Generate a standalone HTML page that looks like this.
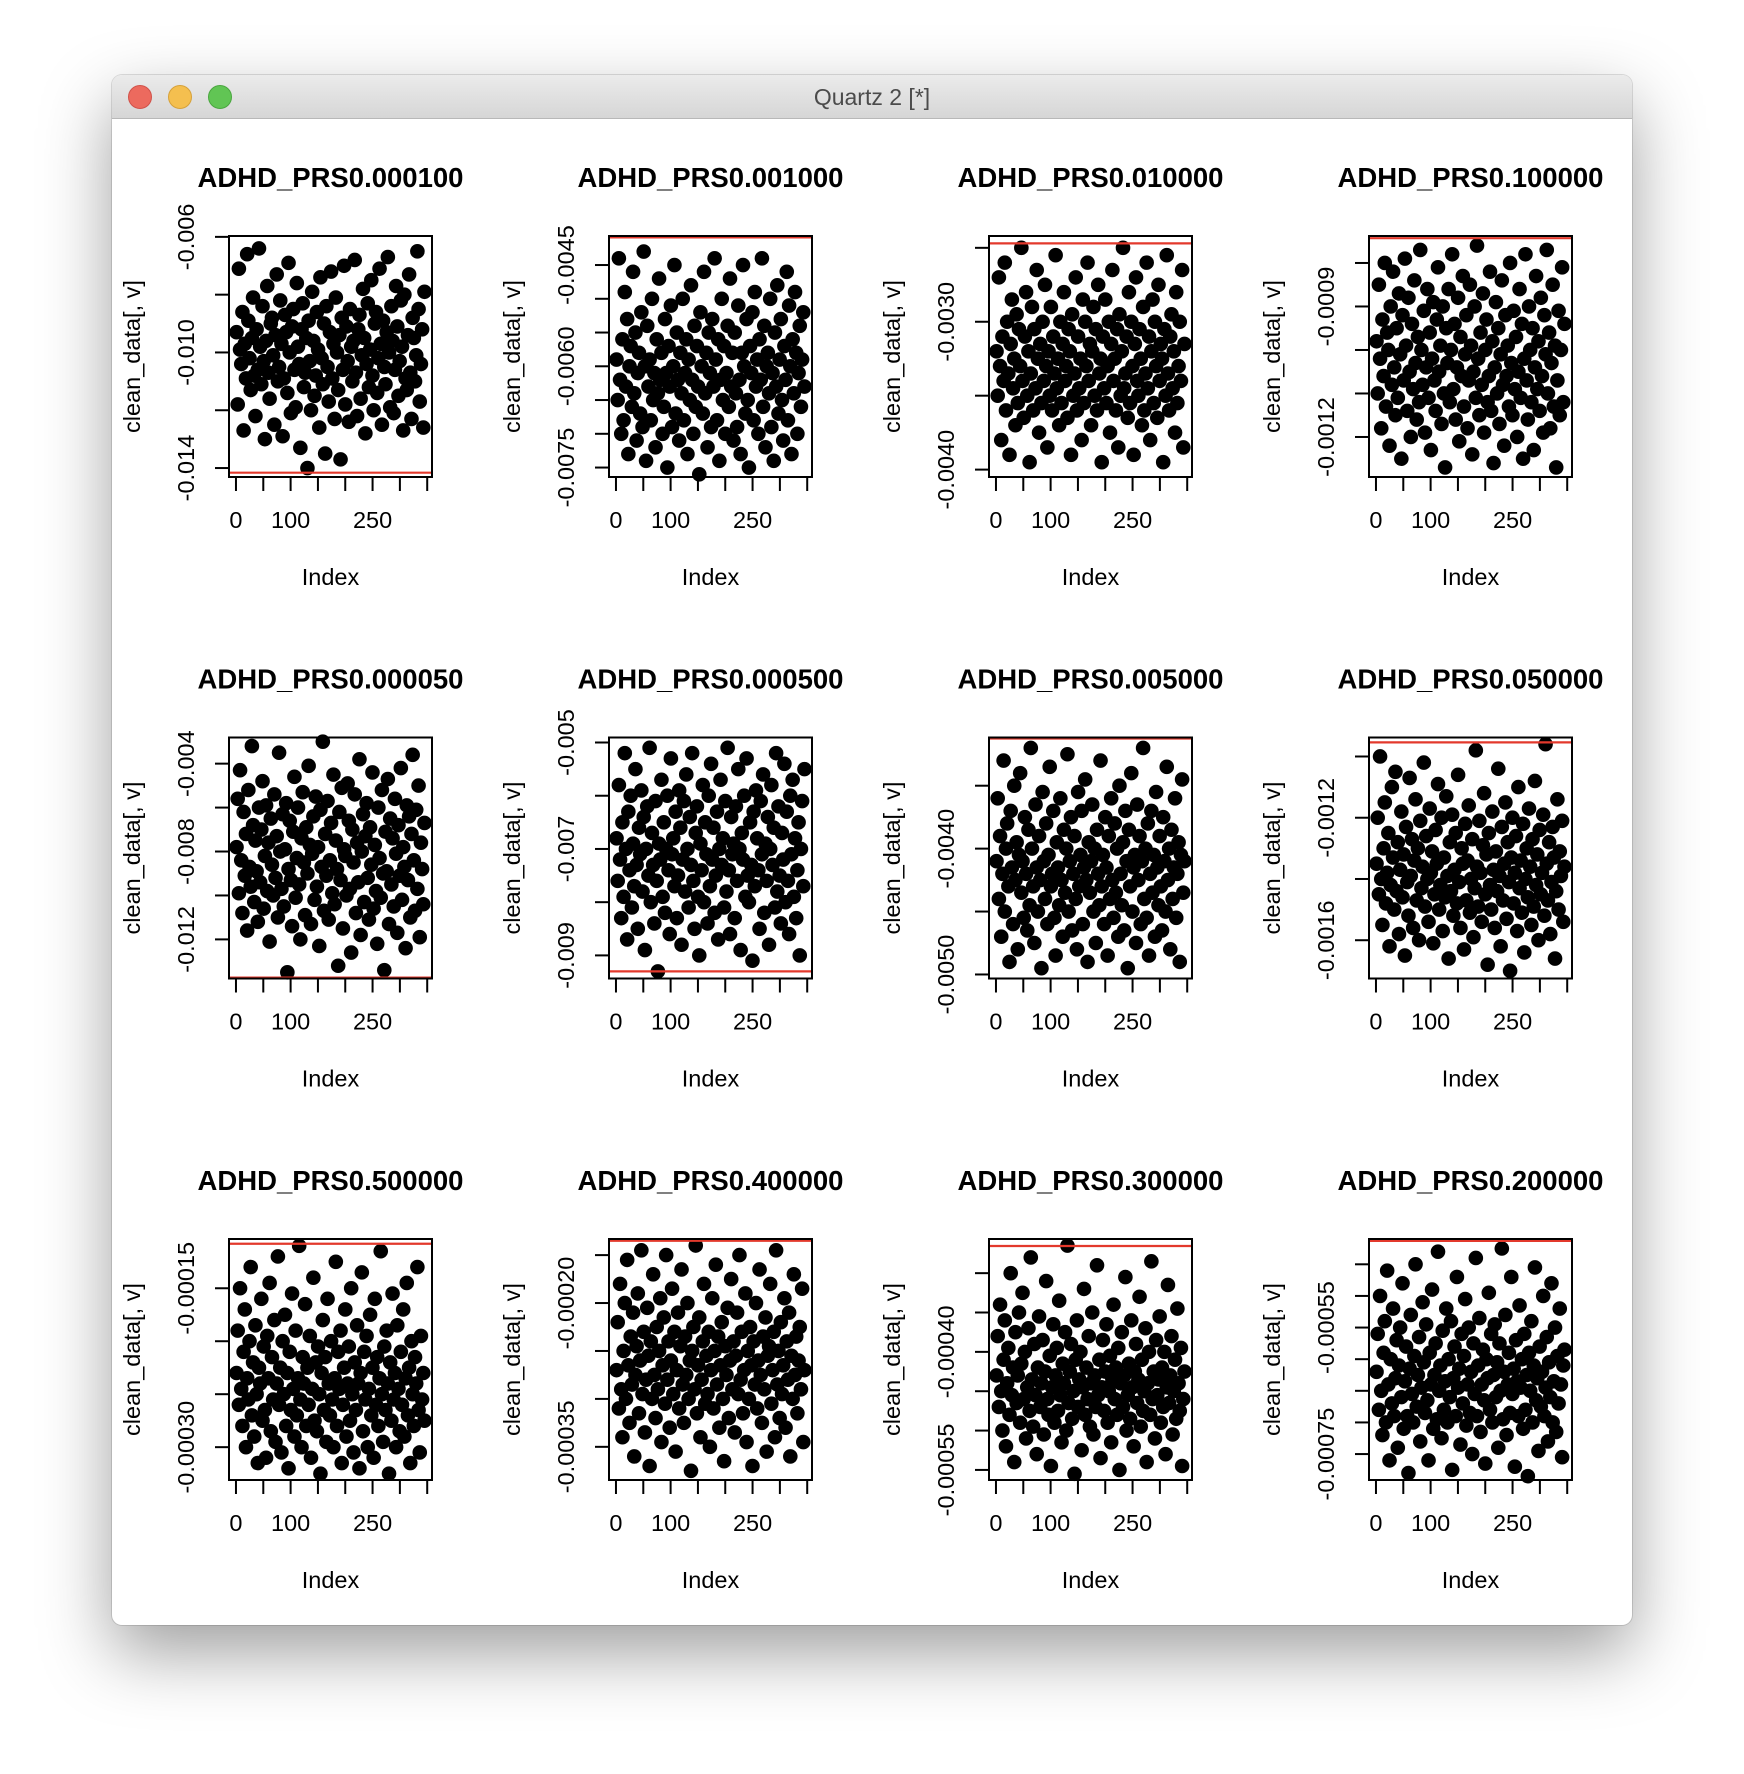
<!DOCTYPE html>
<html><head><meta charset="utf-8">
<style>
html,body{margin:0;padding:0;background:#fff;width:1744px;height:1774px;overflow:hidden;font-family:"Liberation Sans",Arial,sans-serif}
#win{position:absolute;left:112px;top:75px;width:1520px;height:1550px;background:#fff;border-radius:10px;box-shadow:0 28px 70px rgba(0,0,0,0.38),0 0 0 1px rgba(0,0,0,0.12)}
#bar{position:absolute;left:0;top:0;width:1520px;height:44px;border-radius:10px 10px 0 0;background:linear-gradient(#ebebeb,#d6d6d6);border-bottom:1px solid #b8b8b8;box-sizing:border-box}
.dot{position:absolute;top:10px;width:24px;height:24px;border-radius:50%;box-sizing:border-box}
#ttl{position:absolute;left:0;width:1520px;top:9px;text-align:center;font-size:23px;color:#4b4b4b}
svg{position:absolute;left:0;top:0}
</style></head>
<body>
<div id="win">
  <div id="bar">
    <div class="dot" style="left:16px;background:#ec6a5e;border:1px solid #d0524a"></div>
    <div class="dot" style="left:56px;background:#f4bf4f;border:1px solid #d6a13a"></div>
    <div class="dot" style="left:96px;background:#61c554;border:1px solid #4aa63f"></div>
    <div id="ttl">Quartz 2 [*]</div>
  </div>
</div>
<svg id="chart" width="1744" height="1774" xmlns="http://www.w3.org/2000/svg"></svg>
<script>
// ---- chart data ----
const titles = ["ADHD_PRS0.000100","ADHD_PRS0.001000","ADHD_PRS0.010000","ADHD_PRS0.100000",
"ADHD_PRS0.000050","ADHD_PRS0.000500","ADHD_PRS0.005000","ADHD_PRS0.050000",
"ADHD_PRS0.500000","ADHD_PRS0.400000","ADHD_PRS0.300000","ADHD_PRS0.200000"];
const N_INDEX = 345;
const xTicks = [0,50,100,150,200,250,300,350];
const xTickLabels = ["0","100","250"];
const yTicks1=[-0.006,-0.008,-0.010,-0.012,-0.014], yLab1=["-0.006","-0.010","-0.014"];
const yTicks2=[-0.0045,-0.0050,-0.0055,-0.0060,-0.0065,-0.0070,-0.0075], yLab2=["-0.0045","-0.0060","-0.0075"];
const yTicks3=[-0.0025,-0.0030,-0.0035,-0.0040], yLab3=["-0.0030","-0.0040"];
const yTicks4=[-0.0008,-0.0009,-0.0010,-0.0011,-0.0012], yLab4=["-0.0009","-0.0012"];
const yTicks5=[-0.004,-0.006,-0.008,-0.010,-0.012], yLab5=["-0.004","-0.008","-0.012"];
const yTicks6=[-0.005,-0.006,-0.007,-0.008,-0.009], yLab6=["-0.005","-0.007","-0.009"];
const yTicks7=[-0.0035,-0.0040,-0.0045,-0.0050], yLab7=["-0.0040","-0.0050"];
const yTicks8=[-0.0010,-0.0012,-0.0014,-0.0016], yLab8=["-0.0012","-0.0016"];
const yTicks9=[-0.00015,-0.00020,-0.00025,-0.00030], yLab9=["-0.00015","-0.00030"];
const yTicks10=[-0.00015,-0.00020,-0.00025,-0.00030,-0.00035], yLab10=["-0.00020","-0.00035"];
const yTicks11=[-0.00030,-0.00035,-0.00040,-0.00045,-0.00050,-0.00055], yLab11=["-0.00040","-0.00055"];
const yTicks12=[-0.00045,-0.00050,-0.00055,-0.00060,-0.00065,-0.00070,-0.00075], yLab12=["-0.00055","-0.00075"];
const yTop = [-0.00597,-0.00407,-0.00242,-0.000738,-0.00281,-0.004906,-0.003117,-0.000938,-0.0001035,-0.0001332,-0.0002566,-0.000410];
const yBottom = [-0.01431,-0.00764,-0.00405,-0.001292,-0.01378,-0.009434,-0.005032,-0.001725,-0.000331,-0.0003846,-0.0005628,-0.000791];
const redLine = [-0.01416,-0.00409,-0.00247,-0.000743,-0.01374,-0.0093,-0.003125,-0.000954,-0.000108,-0.000135,-0.0002655,-0.000413];
// values in micro-units (x 1e-6)
const v1=[-9300,-11800,-7100,-9900,-10400,-8600,-12700,-9700,-10900,-6600,-8900,-10200,-11300,-9500,-8100,-10800,-12200,-9200,-10600,-6400,
-9800,-11100,-8400,-10300,-13000,-9600,-7700,-10700,-11600,-9000,-8800,-10100,-12500,-9400,-7300,-11000,-10500,-8200,-9700,-12900,
-10900,-8700,-9300,-11400,-6900,-10000,-12100,-9100,-8500,-10600,-11900,-7600,-9800,-10400,-13300,-9200,-8300,-11200,-10700,-9500,
-14000,-8900,-10300,-12000,-7900,-9600,-11500,-10800,-8600,-9900,-12600,-7400,-10200,-11100,-9000,-13500,-8400,-10500,-11700,-9300,
-7200,-10900,-9700,-12300,-8100,-10000,-11300,-9400,-13700,-8800,-10600,-7000,-11800,-9100,-10300,-12400,-8500,-9800,-11000,-9600,
-6800,-10700,-12200,-9200,-8700,-11600,-10100,-7800,-9500,-12800,-10400,-8300,-11200,-9900,-7500,-10800,-12000,-9000,-8600,-11400,
-10200,-7100,-9700,-12500,-8900,-10500,-11100,-9300,-6700,-10000,-11900,-8400,-9600,-12100,-10600,-7700,-9100,-11500,-10300,-8200,
-9800,-12700,-8000,-10900,-11300,-9400,-7300,-10700,-12300,-8800,-9500,-11000,-10100,-6500,-8500,-11700,-10400,-9200,-12600,-7900];
const v2=[-5900,-6500,-4400,-6200,-7000,-5600,-6800,-4900,-6300,-5300,-7300,-6000,-5700,-6600,-4600,-6400,-5500,-7100,-6100,-5800,
-6700,-5200,-6900,-4300,-6000,-7400,-5400,-6300,-5900,-6800,-5000,-6500,-6100,-7200,-5600,-6400,-4700,-6200,-5800,-7000,
-6600,-5300,-6100,-7500,-5700,-6300,-5100,-6900,-6000,-4500,-6700,-5500,-6200,-7100,-5800,-6400,-5000,-6800,-6100,-5600,
-7300,-5900,-6500,-4800,-6200,-7000,-5400,-6600,-5700,-6300,-7600,-5200,-6000,-6700,-4600,-6400,-5800,-7200,-5500,-6100,
-6900,-5300,-6300,-4400,-5900,-6800,-5600,-7400,-6200,-5000,-6500,-5700,-7000,-6100,-5400,-6600,-4700,-6300,-5800,-7100,
-5500,-6400,-6900,-5100,-6200,-7300,-5800,-4500,-6000,-6700,-5300,-6500,-7500,-5700,-6100,-5200,-6800,-4900,-6300,-5900,
-7000,-5600,-6200,-4400,-6600,-5400,-7200,-6000,-5800,-6400,-5000,-6900,-6100,-7400,-5500,-6300,-4800,-6700,-5900,-5300,
-6500,-7100,-5700,-6200,-4600,-6800,-5100,-6000,-7300,-5600,-6400,-4900,-5800,-7000,-6100,-5400,-6600,-5900,-5200,-6300];
const v3=[-3200,-3500,-2700,-3300,-3800,-3100,-3400,-2600,-3600,-3000,-3350,-3900,-3150,-2850,-3450,-3250,-3700,-2950,-3550,-3050,
-3300,-2500,-3400,-3650,-3100,-2800,-3500,-3200,-3950,-3350,-2900,-3600,-3050,-3450,-2650,-3250,-3750,-3150,-3550,-3000,
-3400,-2750,-3300,-3850,-3200,-3500,-2900,-3600,-3100,-3350,-2550,-3450,-3250,-3700,-3000,-3550,-3150,-2800,-3400,-3300,
-3650,-3050,-3200,-3900,-2950,-3500,-3350,-2700,-3600,-3100,-3450,-3250,-3800,-2850,-3550,-3000,-3300,-2600,-3400,-3150,
-3700,-3200,-2900,-3500,-3050,-3600,-2750,-3350,-3250,-3950,-3100,-3450,-2850,-3550,-3300,-3000,-3750,-3150,-2650,-3400,
-3250,-3600,-3050,-3850,-2950,-3500,-3200,-2500,-3450,-3350,-3100,-3650,-2800,-3550,-3000,-3300,-3900,-3150,-2700,-3400,
-3500,-3050,-3250,-3700,-2900,-3600,-3350,-2600,-3450,-3100,-3800,-3200,-2850,-3550,-3000,-3300,-3650,-2750,-3400,-3150,
-3250,-3950,-3050,-3500,-2550,-3350,-3600,-3100,-2950,-3450,-3200,-3750,-2800,-3550,-3300,-3000,-3400,-2650,-3850,-3150];
const v4=[-980,-1100,-850,-1020,-1180,-930,-1060,-800,-1130,-960,-1000,-1220,-900,-1080,-820,-1040,-1150,-950,-1110,-870,
-1010,-1250,-920,-1070,-790,-990,-1140,-880,-1050,-1200,-940,-1090,-840,-1030,-1160,-970,-1120,-770,-1000,-1080,
-910,-1190,-1040,-860,-1110,-960,-1230,-1020,-890,-1070,-1140,-930,-810,-1050,-990,-1170,-900,-1100,-1270,-950,
-1030,-860,-1120,-1000,-780,-1090,-940,-1160,-1040,-880,-1210,-970,-1060,-830,-1130,-1010,-920,-1180,-1070,-850,
-990,-1240,-1050,-900,-1110,-760,-1020,-1150,-960,-1080,-870,-1190,-1000,-930,-1120,-1060,-820,-1140,-980,-1260,
-1040,-890,-1100,-950,-1170,-1010,-840,-1080,-1220,-920,-1060,-990,-1130,-800,-1030,-1150,-910,-1090,-970,-1200,
-1050,-860,-1110,-940,-1250,-1020,-780,-1070,-1160,-900,-1000,-1120,-950,-1230,-1040,-830,-1090,-980,-1140,-880,
-1060,-1190,-920,-1010,-770,-1100,-960,-1180,-1030,-850,-1130,-990,-1270,-1070,-910,-1150,-1000,-810,-1120,-940];
const v5=[-7800,-5600,-9900,-4300,-8400,-10800,-6200,-9100,-7200,-11600,-5200,-8700,-9600,-3200,-6800,-10300,-7500,-8900,-11200,-6000,
-9400,-7000,-4800,-10600,-8200,-5900,-9800,-7600,-12100,-6500,-8600,-10000,-5400,-9200,-7300,-11000,-3500,-8000,-9700,-6300,
-10500,-7900,-5800,-13500,-8800,-6600,-9300,-11400,-7100,-4600,-10100,-8300,-6000,-9500,-12000,-7400,-5300,-8500,-10900,-6900,
-9000,-4100,-7700,-11300,-8100,-6400,-10200,-5500,-9600,-7800,-12300,-6100,-8700,-3000,-10700,-7200,-9100,-5700,-11100,-8400,
-6700,-9900,-4500,-10400,-7500,-8800,-13200,-6200,-9300,-5100,-11500,-7900,-8200,-10000,-4900,-6600,-9700,-12600,-7000,-8500,
-5400,-10800,-7600,-9400,-3800,-11800,-8000,-6300,-10300,-7300,-5800,-9200,-11100,-6900,-8600,-4400,-10600,-7700,-9800,-12200,
-6000,-8300,-10100,-5200,-9000,-13400,-7100,-8900,-4700,-11300,-6500,-9500,-7400,-10500,-5600,-8100,-11700,-6800,-9100,-4200,
-10200,-7800,-8700,-12400,-5900,-9300,-6400,-11000,-7200,-3600,-8400,-10700,-6100,-9700,-5000,-11900,-7600,-8800,-10400,-6700];
const v6=[-6800,-7600,-5800,-7200,-8300,-6500,-7900,-5200,-7000,-8700,-6300,-7400,-6000,-8100,-6900,-7700,-5500,-7300,-8500,-6600,
-7100,-5900,-7800,-6400,-8900,-7000,-6200,-7500,-5100,-8000,-6700,-7300,-8400,-6100,-7600,-9300,-6900,-7200,-5700,-7900,
-6500,-8200,-7000,-6000,-7400,-8600,-5300,-7100,-6800,-7700,-6300,-8300,-7500,-5900,-6600,-8800,-7200,-6100,-7800,-5600,
-7000,-8100,-6400,-7300,-5200,-7600,-8500,-6700,-6200,-7900,-9000,-6900,-7400,-5800,-8000,-6500,-7100,-8400,-6000,-7700,
-5400,-7200,-6600,-8200,-7500,-6300,-8700,-7000,-5700,-7300,-6800,-8100,-6100,-7800,-5100,-7400,-8600,-6400,-7100,-6900,
-8300,-6200,-7600,-5500,-7000,-8900,-6700,-7200,-6000,-7900,-5300,-7500,-8000,-6500,-7300,-9100,-6300,-7700,-5900,-6800,
-7400,-8500,-6100,-7100,-5600,-8200,-6900,-7600,-6400,-8800,-7000,-5800,-7300,-6600,-8100,-5200,-7800,-6200,-7500,-8400,
-6700,-7200,-5400,-8000,-6300,-7600,-8600,-6000,-7100,-5700,-7900,-6800,-8300,-7400,-6500,-9000,-7000,-6100,-7700,-5500];
const v7=[-4100,-3600,-4400,-3900,-4700,-4200,-3300,-4500,-4000,-3800,-4300,-4900,-3700,-4150,-4600,-3500,-4250,-3950,-4800,-4050,
-3400,-4350,-4100,-4550,-3750,-4200,-4650,-3850,-4450,-3200,-4000,-4300,-4750,-3650,-4150,-4500,-3900,-4250,-4950,-3550,
-4100,-4400,-3800,-4600,-4050,-3350,-4300,-4200,-3700,-4550,-4850,-3950,-4150,-4450,-3600,-4250,-4700,-3850,-4350,-4000,
-3250,-4500,-4100,-3750,-4650,-4200,-3900,-4400,-4800,-3550,-4300,-4050,-3700,-4600,-4150,-3450,-4250,-4900,-3950,-4350,
-4100,-3650,-4500,-4000,-4750,-3850,-4200,-4450,-3300,-4300,-4050,-4600,-3750,-4150,-4850,-3900,-4400,-3600,-4250,-4550,
-3800,-4350,-4000,-4700,-3500,-4200,-4450,-3950,-4650,-3700,-4100,-4950,-3850,-4300,-3400,-4500,-4150,-4050,-4750,-3650,
-4250,-3900,-4600,-4100,-3200,-4400,-4000,-4550,-3800,-4850,-4200,-3700,-4350,-4050,-4700,-3550,-4150,-4450,-3900,-4300,
-4650,-3750,-4100,-4500,-3350,-4250,-4000,-4800,-3850,-4400,-4150,-3600,-4550,-4200,-3950,-4900,-4050,-3450,-4350,-4100];
const v8=[-1350,-1200,-1450,-1000,-1400,-1550,-1300,-1150,-1480,-1380,-1250,-1620,-1420,-1100,-1330,-1500,-1050,-1440,-1280,-1580,
-1370,-1180,-1460,-1320,-1650,-1230,-1410,-1520,-1070,-1390,-1270,-1560,-1340,-1140,-1470,-1300,-1600,-1210,-1430,-1360,
-1020,-1490,-1260,-1400,-1540,-1170,-1380,-1310,-1610,-1450,-1240,-1350,-1090,-1500,-1420,-1200,-1570,-1330,-1460,-1130,
-1390,-1660,-1280,-1440,-1190,-1520,-1370,-1250,-1480,-1060,-1410,-1560,-1300,-1350,-1630,-1220,-1470,-1340,-1160,-1510,
-1400,-1270,-1590,-1430,-980,-1360,-1490,-1210,-1380,-1540,-1290,-1120,-1450,-1320,-1680,-1250,-1420,-1500,-1180,-1370,
-1560,-1310,-1440,-1040,-1390,-1620,-1230,-1470,-1350,-1150,-1530,-1280,-1410,-1700,-1330,-1200,-1480,-1380,-1260,-1570,
-1100,-1430,-1340,-1510,-1220,-1640,-1400,-1300,-1460,-1170,-1360,-1550,-1270,-1490,-1080,-1420,-1320,-1600,-1240,-1450,
-1380,-1190,-1520,-960,-1350,-1470,-1280,-1580,-1410,-1230,-1330,-1660,-1440,-1140,-1500,-1310,-1390,-1210,-1540,-1360];
const v9=[-230,-190,-260,-150,-245,-280,-210,-170,-300,-235,-255,-200,-130,-270,-220,-290,-185,-250,-315,-225,
-240,-160,-275,-205,-265,-310,-195,-235,-145,-285,-215,-255,-180,-295,-240,-120,-260,-225,-305,-200,
-250,-175,-280,-230,-320,-210,-265,-155,-245,-290,-190,-270,-235,-110,-255,-300,-215,-240,-165,-280,
-225,-260,-195,-310,-245,-140,-275,-220,-285,-205,-250,-325,-230,-180,-265,-215,-295,-160,-240,-270,
-200,-255,-300,-235,-125,-280,-210,-245,-190,-315,-260,-225,-170,-290,-240,-205,-275,-150,-250,-305,
-220,-265,-185,-240,-320,-230,-135,-285,-210,-255,-195,-300,-245,-175,-270,-225,-310,-160,-260,-215,
-280,-235,-115,-250,-295,-205,-265,-190,-240,-325,-220,-275,-155,-255,-230,-300,-185,-245,-285,-210,
-260,-170,-290,-235,-145,-270,-225,-315,-200,-250,-280,-215,-240,-130,-265,-305,-195,-255,-230,-275];
const v10=[-270,-220,-310,-180,-290,-340,-250,-200,-300,-155,-265,-325,-235,-285,-210,-360,-275,-245,-190,-315,
-260,-145,-295,-230,-335,-280,-205,-255,-370,-240,-300,-170,-275,-320,-225,-290,-250,-195,-345,-265,
-215,-305,-150,-280,-240,-330,-260,-185,-295,-230,-355,-270,-210,-310,-245,-165,-285,-325,-235,-275,
-200,-300,-260,-375,-250,-225,-290,-140,-315,-265,-215,-340,-280,-240,-180,-305,-255,-295,-230,-350,
-270,-195,-310,-250,-160,-285,-235,-330,-265,-220,-300,-365,-245,-275,-205,-320,-260,-175,-290,-240,
-335,-255,-210,-295,-150,-280,-230,-315,-270,-190,-345,-250,-300,-225,-265,-370,-240,-285,-200,-310,
-260,-165,-275,-325,-235,-290,-215,-355,-255,-245,-180,-305,-270,-230,-340,-145,-285,-250,-320,-220,
-295,-265,-195,-330,-240,-280,-210,-360,-255,-300,-170,-275,-235,-315,-260,-225,-290,-185,-345,-270];
const v11=[-430,-380,-470,-340,-450,-500,-410,-360,-520,-440,-395,-480,-300,-455,-420,-540,-375,-465,-430,-350,
-490,-415,-325,-460,-400,-510,-445,-370,-475,-280,-435,-495,-390,-455,-530,-420,-355,-470,-440,-385,
-505,-425,-310,-460,-480,-405,-545,-445,-365,-490,-430,-395,-475,-335,-455,-515,-415,-440,-375,-500,
-265,-465,-425,-390,-485,-450,-555,-410,-360,-470,-435,-400,-525,-445,-320,-480,-420,-460,-380,-495,
-440,-350,-505,-430,-470,-290,-455,-410,-535,-445,-385,-475,-425,-365,-490,-450,-405,-515,-435,-340,
-460,-420,-480,-395,-550,-440,-375,-470,-430,-305,-500,-455,-415,-485,-360,-445,-520,-425,-390,-465,
-435,-330,-495,-410,-475,-450,-370,-540,-440,-400,-480,-285,-460,-425,-510,-385,-455,-435,-355,-490,
-420,-470,-400,-530,-445,-315,-465,-430,-380,-505,-450,-410,-485,-345,-440,-475,-395,-545,-460,-425];
const v12=[-620,-560,-680,-500,-650,-720,-590,-540,-700,-460,-640,-760,-600,-670,-520,-690,-630,-570,-740,-610,
-550,-660,-480,-710,-635,-580,-690,-780,-615,-530,-655,-700,-595,-450,-675,-625,-565,-730,-645,-510,
-605,-685,-545,-665,-760,-590,-640,-490,-710,-625,-575,-695,-430,-650,-610,-725,-555,-680,-635,-520,
-700,-600,-660,-540,-775,-630,-580,-690,-470,-645,-615,-735,-560,-670,-595,-505,-705,-640,-550,-685,
-620,-750,-575,-655,-440,-690,-610,-535,-715,-640,-585,-665,-765,-600,-630,-495,-680,-560,-700,-625,
-545,-660,-605,-740,-575,-650,-425,-695,-620,-530,-720,-640,-590,-685,-470,-655,-615,-770,-570,-635,
-690,-515,-645,-600,-710,-560,-680,-625,-785,-590,-650,-540,-700,-610,-455,-665,-630,-745,-580,-675,
-620,-500,-690,-645,-565,-730,-605,-660,-480,-700,-635,-550,-715,-595,-670,-520,-640,-755,-610,-585];

const allVals=[v1,v2,v3,v4,v5,v6,v7,v8,v9,v10,v11,v12];
const allTicks=[yTicks1,yTicks2,yTicks3,yTicks4,yTicks5,yTicks6,yTicks7,yTicks8,yTicks9,yTicks10,yTicks11,yTicks12];
const allLabs=[yLab1,yLab2,yLab3,yLab4,yLab5,yLab6,yLab7,yLab8,yLab9,yLab10,yLab11,yLab12];

const NS="http://www.w3.org/2000/svg";
const svg=document.getElementById('chart');
function mk(tag,attrs,parent){const e=document.createElementNS(NS,tag);for(const k in attrs)e.setAttribute(k,attrs[k]);(parent||svg).appendChild(e);return e;}
const BOX_W=203, BOX_H=241;
for(let p=0;p<12;p++){
  const col=p%4,row=Math.floor(p/4);
  const L=229+380*col, T=236+501.5*row, R=L+BOX_W, B=T+BOX_H;
  const g=mk('g',{});
  
  
  const pad=(N_INDEX-1)*0.04, x0=1-pad, x1=N_INDEX+pad;
  const xs=v=>L+(v-x0)/(x1-x0)*BOX_W;
  const ys=v=>T+(yTop[p]-v)/(yTop[p]-yBottom[p])*BOX_H;
  const cx=L+BOX_W/2;
  const t=mk('text',{x:cx,y:T-49,'text-anchor':'middle','font-size':27.5,'font-weight':'bold','font-family':'"Liberation Sans",Arial,sans-serif',fill:'#000'},g);
  t.textContent=titles[p];
  
  
  const vals=allVals[p];
  const n=vals.length;
  for(let i=0;i<n;i++){
    const idx=1+i*(N_INDEX-1)/(n-1);
    const c=mk('circle',{cx:xs(idx),cy:ys(vals[i]*1e-6),r:7.3,fill:'#000'},g);
    
    
  }
  const rl=mk('line',{x1:L,x2:R,y1:ys(redLine[p]),y2:ys(redLine[p]),stroke:'#e3392c','stroke-width':2.2},g);
  
  
  const bx=mk('rect',{x:L,y:T,width:BOX_W,height:BOX_H,fill:'none',stroke:'#000','stroke-width':2},g);
  
  
  for(const v of xTicks){
    const tk=mk('line',{x1:xs(v),x2:xs(v),y1:B,y2:B+14,stroke:'#000','stroke-width':2},g);
    
    
  }
  for(const s of xTickLabels){
    const tl=mk('text',{x:xs(+s),y:B+51,'text-anchor':'middle','font-size':23.5,'font-family':'"Liberation Sans",Arial,sans-serif'},g);
    tl.textContent=s;
    
    
  }
  const xl=mk('text',{x:cx,y:B+108,'text-anchor':'middle','font-size':23.5,'font-family':'"Liberation Sans",Arial,sans-serif'},g);
  xl.textContent='Index';
  
  
  for(const v of allTicks[p]){
    const tk=mk('line',{x1:L-14,x2:L,y1:ys(v),y2:ys(v),stroke:'#000','stroke-width':2},g);
    
    
  }
  for(const s of allLabs[p]){
    const yy=ys(parseFloat(s)), xx=L-35;
    const tl=mk('text',{x:xx,y:yy,'text-anchor':'middle','font-size':23.5,'font-family':'"Liberation Sans",Arial,sans-serif',transform:`rotate(-90 ${xx} ${yy})`},g);
    tl.textContent=s;
    
    
  }
  const yx=L-89, yy=T+BOX_H/2;
  const yl=mk('text',{x:yx,y:yy,'text-anchor':'middle','font-size':23.5,'font-family':'"Liberation Sans",Arial,sans-serif',transform:`rotate(-90 ${yx} ${yy})`},g);
  yl.textContent='clean_data[, v]';
  
  
}
</script>
</body></html>
